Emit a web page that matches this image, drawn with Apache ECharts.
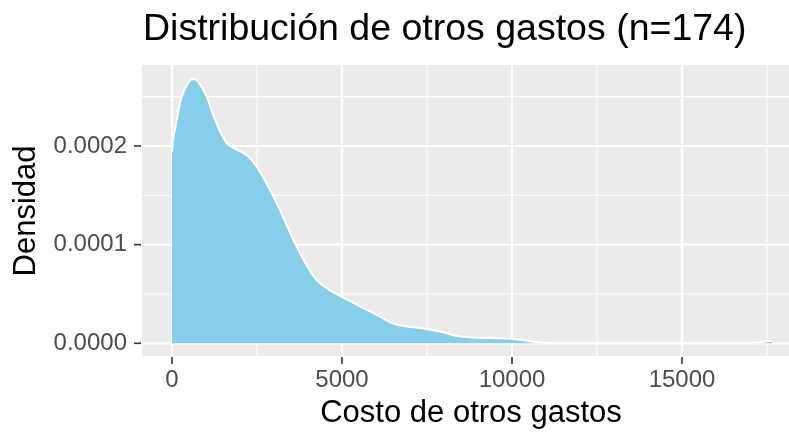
<!DOCTYPE html>
<html>
<head>
<meta charset="utf-8">
<script src="https://cdn.jsdelivr.net/npm/echarts@6/dist/echarts.min.js"></script>
<style>
  html, body { margin: 0; padding: 0; background: #fff; }
  #chart { width: 789px; height: 432px; }
</style>
</head>
<body>
<div id="chart"></div>
<script>
// density estimate
const costValues = [0, 40, 140, 285, 480, 626, 774, 1021, 1215, 1412, 1609, 1803, 2097, 2294,
  2491, 2785, 3176, 3568, 3962, 4256, 4550, 4941, 5332, 5726, 6118, 6509, 6903, 7391, 7882,
  8374, 8862, 9647, 10138, 10626, 11118, 11700, 12600, 14000, 15500, 16700, 17200, 17640];
const densityValues = [1.94e-4, 2.08e-4, 2.26e-4, 2.50e-4, 2.64e-4, 2.68e-4, 2.65e-4, 2.50e-4,
  2.31e-4, 2.15e-4, 2.03e-4, 1.98e-4, 1.93e-4, 1.875e-4, 1.79e-4, 1.62e-4, 1.35e-4, 1.05e-4,
  0.79e-4, 0.64e-4, 0.56e-4, 0.48e-4, 0.41e-4, 0.34e-4, 0.27e-4, 0.20e-4, 0.17e-4, 0.15e-4,
  0.12e-4, 0.075e-4, 0.06e-4, 0.05e-4, 0.04e-4, 0.016e-4, 0.004e-4, 0.001e-4, 0, 0, 0, 0,
  0.008e-4, 0.026e-4];

const xTicks = [0, 5000, 10000, 15000];
const xMinor = [2500, 7500, 12500, 17500];
const yTicks = [0, 0.0001, 0.0002];
const yMinor = [0.00005, 0.00015, 0.00025];

const titleText = "Distribución de otros gastos (n=174)";
const xTitle = "Costo de otros gastos";
const yTitle = "Densidad";

const font = "'Liberation Sans', Arial, Helvetica, sans-serif";

const chart = echarts.init(document.getElementById("chart"));

// white panel grid lines (ggplot look), drawn through the axes' own scales
function gridSeries(dir, values, width) {
  return {
    type: "custom",
    z: 1,
    silent: true,
    clip: true,
    data: values.map((v) => [v]),
    renderItem: (params, api) => {
      const cs = params.coordSys;
      const v = api.value(0);
      let shape;
      if (dir === "v") {
        const px = api.coord([v, 0])[0];
        shape = { x1: px, y1: cs.y, x2: px, y2: cs.y + cs.height };
      } else {
        const py = api.coord([0, v])[1];
        shape = { x1: cs.x, y1: py, x2: cs.x + cs.width, y2: py };
      }
      return {
        type: "line",
        shape: shape,
        style: { stroke: "#ffffff", lineWidth: width },
      };
    },
  };
}

// dark tick marks just outside the panel
function tickSeries(dir, values) {
  return {
    type: "custom",
    z: 4,
    silent: true,
    clip: false,
    data: values.map((v) => [v]),
    renderItem: (params, api) => {
      const cs = params.coordSys;
      const v = api.value(0);
      let shape;
      if (dir === "x") {
        const px = api.coord([v, 0])[0];
        const b = cs.y + cs.height;
        shape = { x1: px, y1: b + 1, x2: px, y2: b + 8 };
      } else {
        const py = api.coord([0, v])[1];
        shape = { x1: cs.x - 8, y1: py, x2: cs.x - 1, y2: py };
      }
      return {
        type: "line",
        shape: shape,
        style: { stroke: "#333333", lineWidth: 1.6 },
      };
    },
  };
}

chart.setOption({
  animation: false,
  backgroundColor: "#ffffff",
  grid: {
    left: 142,
    right: 0,
    top: 65,
    bottom: 76,
    show: true,
    backgroundColor: "#EBEBEB",
    borderWidth: 0,
  },
  xAxis: {
    type: "value",
    min: -882,
    max: 18147,
    axisLine: { show: false },
    splitLine: { show: false },
    axisTick: { show: false },
    axisLabel: {
      customValues: xTicks,
      formatter: (v) => String(v),
      color: "#4D4D4D",
      fontSize: 24,
      fontFamily: font,
      margin: 12,
    },
  },
  yAxis: {
    type: "value",
    min: -1.287e-5,
    max: 2.821e-4,
    axisLine: { show: false },
    splitLine: { show: false },
    axisTick: { show: false },
    axisLabel: {
      customValues: yTicks,
      formatter: (v) => v.toFixed(4),
      color: "#4D4D4D",
      fontSize: 24,
      fontFamily: font,
      margin: 15,
    },
  },
  graphic: [
    {
      type: "text",
      style: {
        text: titleText,
        x: 143,
        y: 30,
        font: "37.5px " + font,
        fill: "#000000",
        textAlign: "left",
        textVerticalAlign: "middle",
      },
    },
    {
      type: "text",
      style: {
        text: xTitle,
        x: 471,
        y: 413,
        font: "31px " + font,
        fill: "#000000",
        textAlign: "center",
        textVerticalAlign: "middle",
      },
    },
    {
      type: "text",
      x: 26,
      y: 211,
      rotation: Math.PI / 2,
      style: {
        text: yTitle,
        x: 0,
        y: 0,
        font: "31px " + font,
        fill: "#000000",
        textAlign: "center",
        textVerticalAlign: "middle",
      },
    },
  ],
  series: [
    gridSeries("v", xMinor, 1.1),
    gridSeries("h", yMinor, 1.1),
    gridSeries("v", xTicks, 2.2),
    gridSeries("h", yTicks, 2.2),
    tickSeries("x", xTicks),
    tickSeries("y", yTicks),
    {
      type: "line",
      z: 3,
      data: costValues.map((x, i) => [x, densityValues[i]]),
      smooth: 0.4,
      showSymbol: false,
      symbol: "none",
      lineStyle: { color: "#ffffff", width: 2 },
      areaStyle: { color: "#87CEEB", opacity: 1 },
      silent: true,
    },
  ],
});
</script>
</body>
</html>
